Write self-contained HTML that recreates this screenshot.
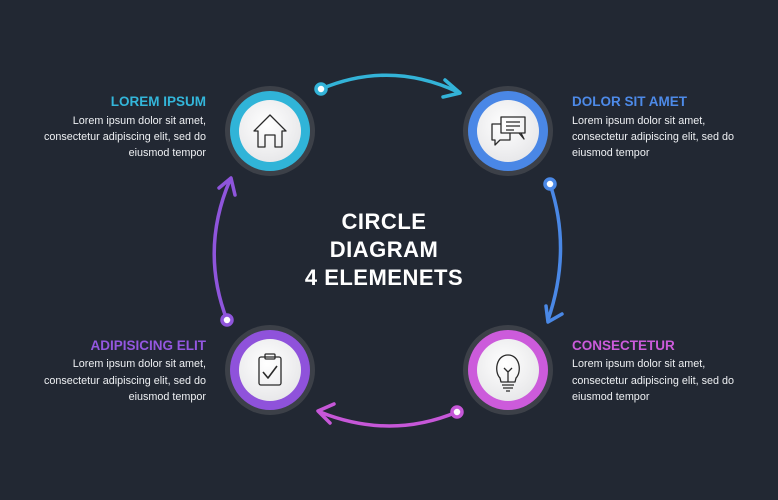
<!DOCTYPE html>
<html><head><meta charset="utf-8"><style>
html,body{margin:0;padding:0;background:#222833;}
svg{display:block}
.t{font-family:"Liberation Sans",sans-serif;font-weight:bold;font-size:13.5px}
.b{font-family:"Liberation Sans",sans-serif;font-size:10.8px;fill:#eef0f3}
.c{font-family:"Liberation Sans",sans-serif;font-size:22px;fill:#fff;font-weight:bold;letter-spacing:0.5px}
</style></head><body>
<svg width="778" height="500" viewBox="0 0 778 500" xmlns="http://www.w3.org/2000/svg">
<defs>
<radialGradient id="w" cx="0.45" cy="0.4" r="0.6"><stop offset="0" stop-color="#ffffff"/><stop offset="1" stop-color="#e8e8ea"/></radialGradient>
</defs>
<rect width="778" height="500" fill="#222833"/>

<g fill="none" stroke-width="3.5" stroke-linecap="round" stroke-linejoin="round">
<path d="M321,89 Q390,60 458,92" stroke="#33b3d8"/>
<path d="M445,80 L460,93 L443,97" stroke="#33b3d8"/>
<path d="M550,184 Q572,250 548,320" stroke="#4a88e6"/>
<path d="M546,306 L548,322 L562,314" stroke="#4a88e6"/>
<path d="M457,412 Q390,440 320,412" stroke="#c657d8"/>
<path d="M334,404 L318,411 L330,423" stroke="#c657d8"/>
<path d="M227,320 Q200,250 230,180" stroke="#8f55dc"/>
<path d="M219,188 L231,178 L235,195" stroke="#8f55dc"/>
</g>
<g stroke-width="3.5" fill="#fff">
<circle cx="321" cy="89" r="5" stroke="#33b3d8"/>
<circle cx="550" cy="184" r="5" stroke="#4a88e6"/>
<circle cx="457" cy="412" r="5" stroke="#c657d8"/>
<circle cx="227" cy="320" r="5" stroke="#8f55dc"/>
</g>

<g>
<circle cx="270" cy="131" r="45" fill="#3c4048"/><circle cx="270" cy="131" r="40" fill="#30b4d8"/><circle cx="270" cy="131" r="31" fill="url(#w)"/>
<circle cx="508" cy="131" r="45" fill="#3c4048"/><circle cx="508" cy="131" r="40" fill="#4a87e6"/><circle cx="508" cy="131" r="31" fill="url(#w)"/>
<circle cx="508" cy="370" r="45" fill="#3c4048"/><circle cx="508" cy="370" r="40" fill="#cc5bdb"/><circle cx="508" cy="370" r="31" fill="url(#w)"/>
<circle cx="270" cy="370" r="45" fill="#3c4048"/><circle cx="270" cy="370" r="40" fill="#8f52db"/><circle cx="270" cy="370" r="31" fill="url(#w)"/>
</g>

<g fill="none" stroke="#2a2a2a" stroke-width="1.3" stroke-linejoin="round">
<path d="M254,131 L270,115 L286,131 L282,131 L282,147 L275,147 L275,135 L265,135 L265,147 L258,147 L258,131 Z"/>
<rect x="501" y="117" width="24" height="16"/>
<path d="M519,133 L524,139 L521,133"/>
<path d="M501,124 L492,124 L492,140 L495,140 L495,145 L500,140 L510,140 L510,133"/>
<path d="M506,122 H520 M506,126 H520 M506,130 H514"/>
<rect x="259" y="357" width="22" height="28" rx="2"/>
<rect x="265" y="354" width="10" height="5" rx="1"/>
<path d="M263,372 L268,378 L277,366" stroke-width="1.6"/>
<path d="M500,378 C494,372 496,355 508,355 C520,355 522,372 516,378 L515,382 L501,382 Z"/>
<path d="M502,385 H514 M503,388 H513 M506,391 H510"/>
<path d="M508,382 V372 M504,368 L508,372 L512,368"/>
</g>

<text class="t" x="206" y="106" text-anchor="end" fill="#33b6da">LOREM IPSUM</text>
<text class="b" x="206" y="124" text-anchor="end">Lorem ipsum dolor sit amet,</text>
<text class="b" x="206" y="140" text-anchor="end">consectetur adipiscing elit, sed do</text>
<text class="b" x="206" y="156" text-anchor="end">eiusmod tempor</text>

<text class="t" x="572" y="106" fill="#4d8ae8">DOLOR SIT AMET</text>
<text class="b" x="572" y="124">Lorem ipsum dolor sit amet,</text>
<text class="b" x="572" y="140">consectetur adipiscing elit, sed do</text>
<text class="b" x="572" y="156">eiusmod tempor</text>

<text class="t" x="206" y="350" text-anchor="end" fill="#9457e0">ADIPISICING ELIT</text>
<text class="b" x="206" y="367" text-anchor="end">Lorem ipsum dolor sit amet,</text>
<text class="b" x="206" y="384" text-anchor="end">consectetur adipiscing elit, sed do</text>
<text class="b" x="206" y="400" text-anchor="end">eiusmod tempor</text>

<text class="t" x="572" y="350" fill="#cc5bdb">CONSECTETUR</text>
<text class="b" x="572" y="367">Lorem ipsum dolor sit amet,</text>
<text class="b" x="572" y="384">consectetur adipiscing elit, sed do</text>
<text class="b" x="572" y="400">eiusmod tempor</text>

<text class="c" x="384" y="229" text-anchor="middle">CIRCLE</text>
<text class="c" x="384" y="257" text-anchor="middle">DIAGRAM</text>
<text class="c" x="384" y="285" text-anchor="middle">4 ELEMENETS</text>
</svg>
</body></html>
